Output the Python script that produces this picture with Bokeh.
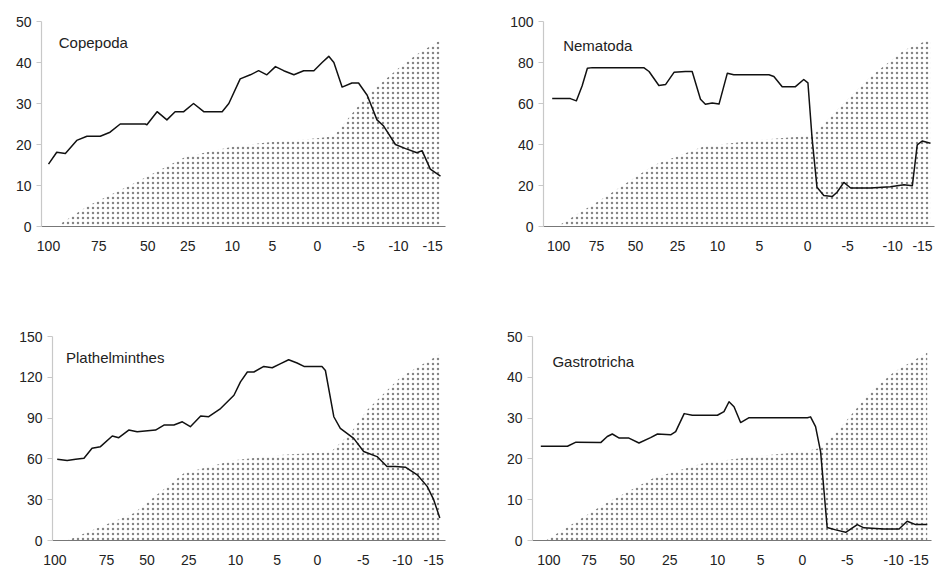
from bokeh.plotting import figure
from bokeh.models import Range1d, FixedTicker, Label
from bokeh.layouts import column, row
from bokeh.embed import file_html
from bokeh.resources import INLINE

# ---------------- data ----------------
tick_labels = ["100", "75", "50", "25", "10", "5", "0", "-5", "-10", "-15"]

cope_x = [0, 0.21, 0.43, 0.72, 0.98, 1.32, 1.57, 1.83, 2.47, 2.51, 2.77, 3.02, 3.23, 3.45, 3.70, 3.96,
          4.43, 4.60, 4.89, 5.15, 5.36, 5.57, 5.79, 6.0, 6.26, 6.51, 6.77, 6.98, 7.15, 7.28, 7.49, 7.74,
          7.91, 8.13, 8.38, 8.55, 8.85, 9.11, 9.40, 9.53, 9.74, 10.0]
cope_y = [15.2, 18.1, 17.8, 21, 22, 22, 23, 25, 25, 24.8, 28, 26, 28, 28, 30, 28,
          28, 30, 36, 37, 38, 37, 39, 38, 37, 38, 38, 40, 41.5, 40, 34, 35,
          35, 32, 26, 24.5, 20, 19, 18, 18.5, 14, 12.3]
cope_sx = [0.2, 1.0, 2.17, 3.5, 4.72, 5.57, 6.85, 7.28, 7.7, 8.13, 8.55, 8.98, 9.4, 10.0]
cope_sy = [0, 5, 10.5, 17, 19.5, 20.5, 21.5, 22, 27, 32, 35.5, 39, 42, 45.5]

nema_x = [0, 0.48, 0.64, 0.79, 0.93, 1.06, 2.42, 2.56, 2.82, 3.0, 3.22, 3.52, 3.7, 3.92, 4.05, 4.23,
          4.41, 4.63, 4.8, 5.73, 5.86, 6.08, 6.43, 6.65, 6.76, 6.87, 7.0, 7.18, 7.4, 7.53, 7.71, 7.89,
          8.41, 8.94, 9.3, 9.52, 9.65, 9.78, 10.0]
nema_y = [62.4, 62.4, 61.3, 68.5, 77.2, 77.5, 77.5, 75.6, 68.8, 69.3, 75.2, 75.6, 75.6, 62.1, 59.6, 60.2,
          59.7, 74.8, 74.0, 74.0, 73.2, 68.2, 68.2, 71.7, 70.1, 43, 19.1, 15.1, 14.6, 16.7, 21.5, 18.8,
          18.8, 19.4, 20.4, 19.9, 39.8, 41.7, 40.6]
nema_sx = [0.13, 1.37, 2.69, 4.0, 5.33, 6.65, 6.9, 7.53, 8.41, 9.3, 10.0]
nema_sy = [0, 14, 30, 39, 42, 44, 44.6, 57, 73, 86, 91.5]

plat_x = [0, 0.26, 0.48, 0.7, 0.91, 1.13, 1.44, 1.61, 1.87, 2.09, 2.57, 2.79, 3.05, 3.27, 3.48, 3.75,
          3.96, 4.27, 4.62, 4.79, 4.97, 5.14, 5.4, 5.62, 5.84, 6.05, 6.27, 6.45, 6.92, 7.01, 7.23, 7.4,
          7.75, 8.01, 8.36, 8.62, 8.84, 9.1, 9.41, 9.67, 9.84, 10.0]
plat_y = [59.8, 58.8, 59.8, 60.5, 67.8, 69, 76.8, 75.6, 81.2, 80, 81.2, 84.9, 84.9, 87.3, 83.7, 91.5,
          91, 97, 106.8, 116.6, 123.9, 123.9, 128, 127, 130, 132.9, 130.5, 128, 128, 125, 91, 82.4,
          75.1, 65.4, 61.7, 54.4, 54.4, 53.9, 48.3, 39.8, 30, 16.6]
plat_sx = [0.26, 2.0, 3.31, 4.62, 5.92, 7.15, 7.67, 8.1, 8.97, 10.0]
plat_sy = [0, 20, 49.5, 59, 63, 65, 79, 96, 120, 137]

gast_x = [0, 0.69, 0.91, 1.55, 1.72, 1.85, 2.03, 2.28, 2.54, 2.84, 3.02, 3.36, 3.49, 3.71, 3.92, 4.57,
          4.74, 4.87, 5.0, 5.17, 5.39, 6.9, 6.98, 7.11, 7.24, 7.41, 7.63, 7.89, 8.19, 8.36, 8.88, 9.27,
          9.48, 9.7, 10.0]
gast_y = [23.1, 23.1, 24.1, 24.0, 25.5, 26.1, 25.1, 25.1, 23.9, 25.2, 26.1, 25.9, 26.7, 31.1, 30.7, 30.7,
          31.6, 34, 32.8, 28.9, 30.1, 30.1, 30.3, 27.9, 21.8, 3.2, 2.6, 2.0, 3.9, 3.1, 2.8, 2.8,
          4.7, 3.9, 3.9]
gast_sx = [0.13, 1.64, 2.93, 4.22, 5.52, 6.81, 7.24, 7.67, 8.53, 9.14, 10.0]
gast_sy = [0, 8.9, 15.4, 19, 20.6, 21.8, 22.7, 26.7, 36.4, 41.3, 46.1]

panels = [
    dict(name="Copepoda", x=cope_x, y=cope_y, sx=cope_sx, sy=cope_sy, ymax=50, ystep=10),
    dict(name="Nematoda", x=nema_x, y=nema_y, sx=nema_sx, sy=nema_sy, ymax=100, ystep=20),
    dict(name="Plathelminthes", x=plat_x, y=plat_y, sx=plat_sx, sy=plat_sy, ymax=150, ystep=30),
    dict(name="Gastrotricha", x=gast_x, y=gast_y, sx=gast_sx, sy=gast_sy, ymax=50, ystep=10),
]

# ---------------- layout (positions / styles) ----------------
geom = [
    dict(w=469, h=286, left=41, right=24, top=21, bottom=60, xs=-0.179, xe=10.128,
         ticks=[0, 1.28, 2.53, 3.55, 4.69, 5.71, 6.86, 7.91, 8.93, 9.80], lx=0.26, ly=44.9),
    dict(w=469, h=286, left=74, right=4, top=21, bottom=56, xs=-0.23, xe=10.106,
         ticks=[0.17, 1.17, 2.2, 3.31, 4.37, 5.48, 6.75, 7.81, 9.0, 9.79], lx=0.29, ly=88.5),
    dict(w=469, h=287, left=52, right=24, top=50, bottom=32, xs=-0.123, xe=10.149,
         ticks=[-0.06, 1.29, 2.35, 3.44, 4.66, 5.75, 6.8, 8.0, 9.02, 9.84], lx=0.23, ly=134.8),
    dict(w=469, h=287, left=63, right=7, top=48, bottom=33, xs=-0.215, xe=10.11,
         ticks=[0.21, 1.25, 2.24, 3.34, 4.57, 5.69, 6.77, 7.93, 9.13, 9.78], lx=0.3, ly=43.9),
]

FONT = "Liberation Sans"
figs = []
for pan, g in zip(panels, geom):
    p = figure(width=g["w"], height=g["h"], output_backend="svg", toolbar_location=None,
               x_range=Range1d(g["xs"], g["xe"]), y_range=Range1d(0, pan["ymax"]),
               min_border_left=g["left"], min_border_right=g["right"],
               min_border_top=g["top"], min_border_bottom=g["bottom"])
    p.outline_line_color = None
    p.grid.visible = False
    p.background_fill_color = "white"
    p.border_fill_color = "white"

    p.varea(x=pan["sx"], y1=[0] * len(pan["sx"]), y2=pan["sy"], fill_alpha=0,
            hatch_pattern="dot", hatch_scale=5, hatch_weight=1, hatch_color="#333333",
            hatch_alpha=0.6)
    p.line(pan["x"], pan["y"], line_color="#111111", line_width=1.5, line_join="round")

    ticks = g["ticks"]
    p.xaxis.ticker = FixedTicker(ticks=ticks)
    p.xaxis.major_label_overrides = {t: lab for t, lab in zip(ticks, tick_labels)}
    p.xaxis.axis_line_color = "#777777"
    p.xaxis.axis_line_width = 1.2
    p.xaxis.major_tick_out = 0
    p.xaxis.major_tick_in = 0
    p.xaxis.minor_tick_line_color = None
    p.xaxis.major_label_standoff = 14
    p.xaxis.major_label_text_font = FONT
    p.xaxis.major_label_text_font_size = "14px"
    p.xaxis.major_label_text_color = "#222222"

    p.yaxis.ticker = FixedTicker(ticks=list(range(0, pan["ymax"] + 1, pan["ystep"])))
    p.yaxis.axis_line_color = "#c8c8c8"
    p.yaxis.axis_line_width = 1.2
    p.yaxis.major_tick_line_color = "#c8c8c8"
    p.yaxis.major_tick_out = 5
    p.yaxis.major_tick_in = 0
    p.yaxis.minor_tick_line_color = None
    p.yaxis.major_label_standoff = 5
    p.yaxis.major_label_text_font = FONT
    p.yaxis.major_label_text_font_size = "14px"
    p.yaxis.major_label_text_color = "#222222"

    p.add_layout(Label(x=g["lx"], y=g["ly"], text=pan["name"], text_font=FONT,
                       text_font_size="15px", text_color="#222222",
                       text_baseline="middle", text_align="left"))
    figs.append(p)

layout = column(row(figs[0], figs[1]), row(figs[2], figs[3]))
open("out.html", "w").write(file_html(layout, INLINE))
